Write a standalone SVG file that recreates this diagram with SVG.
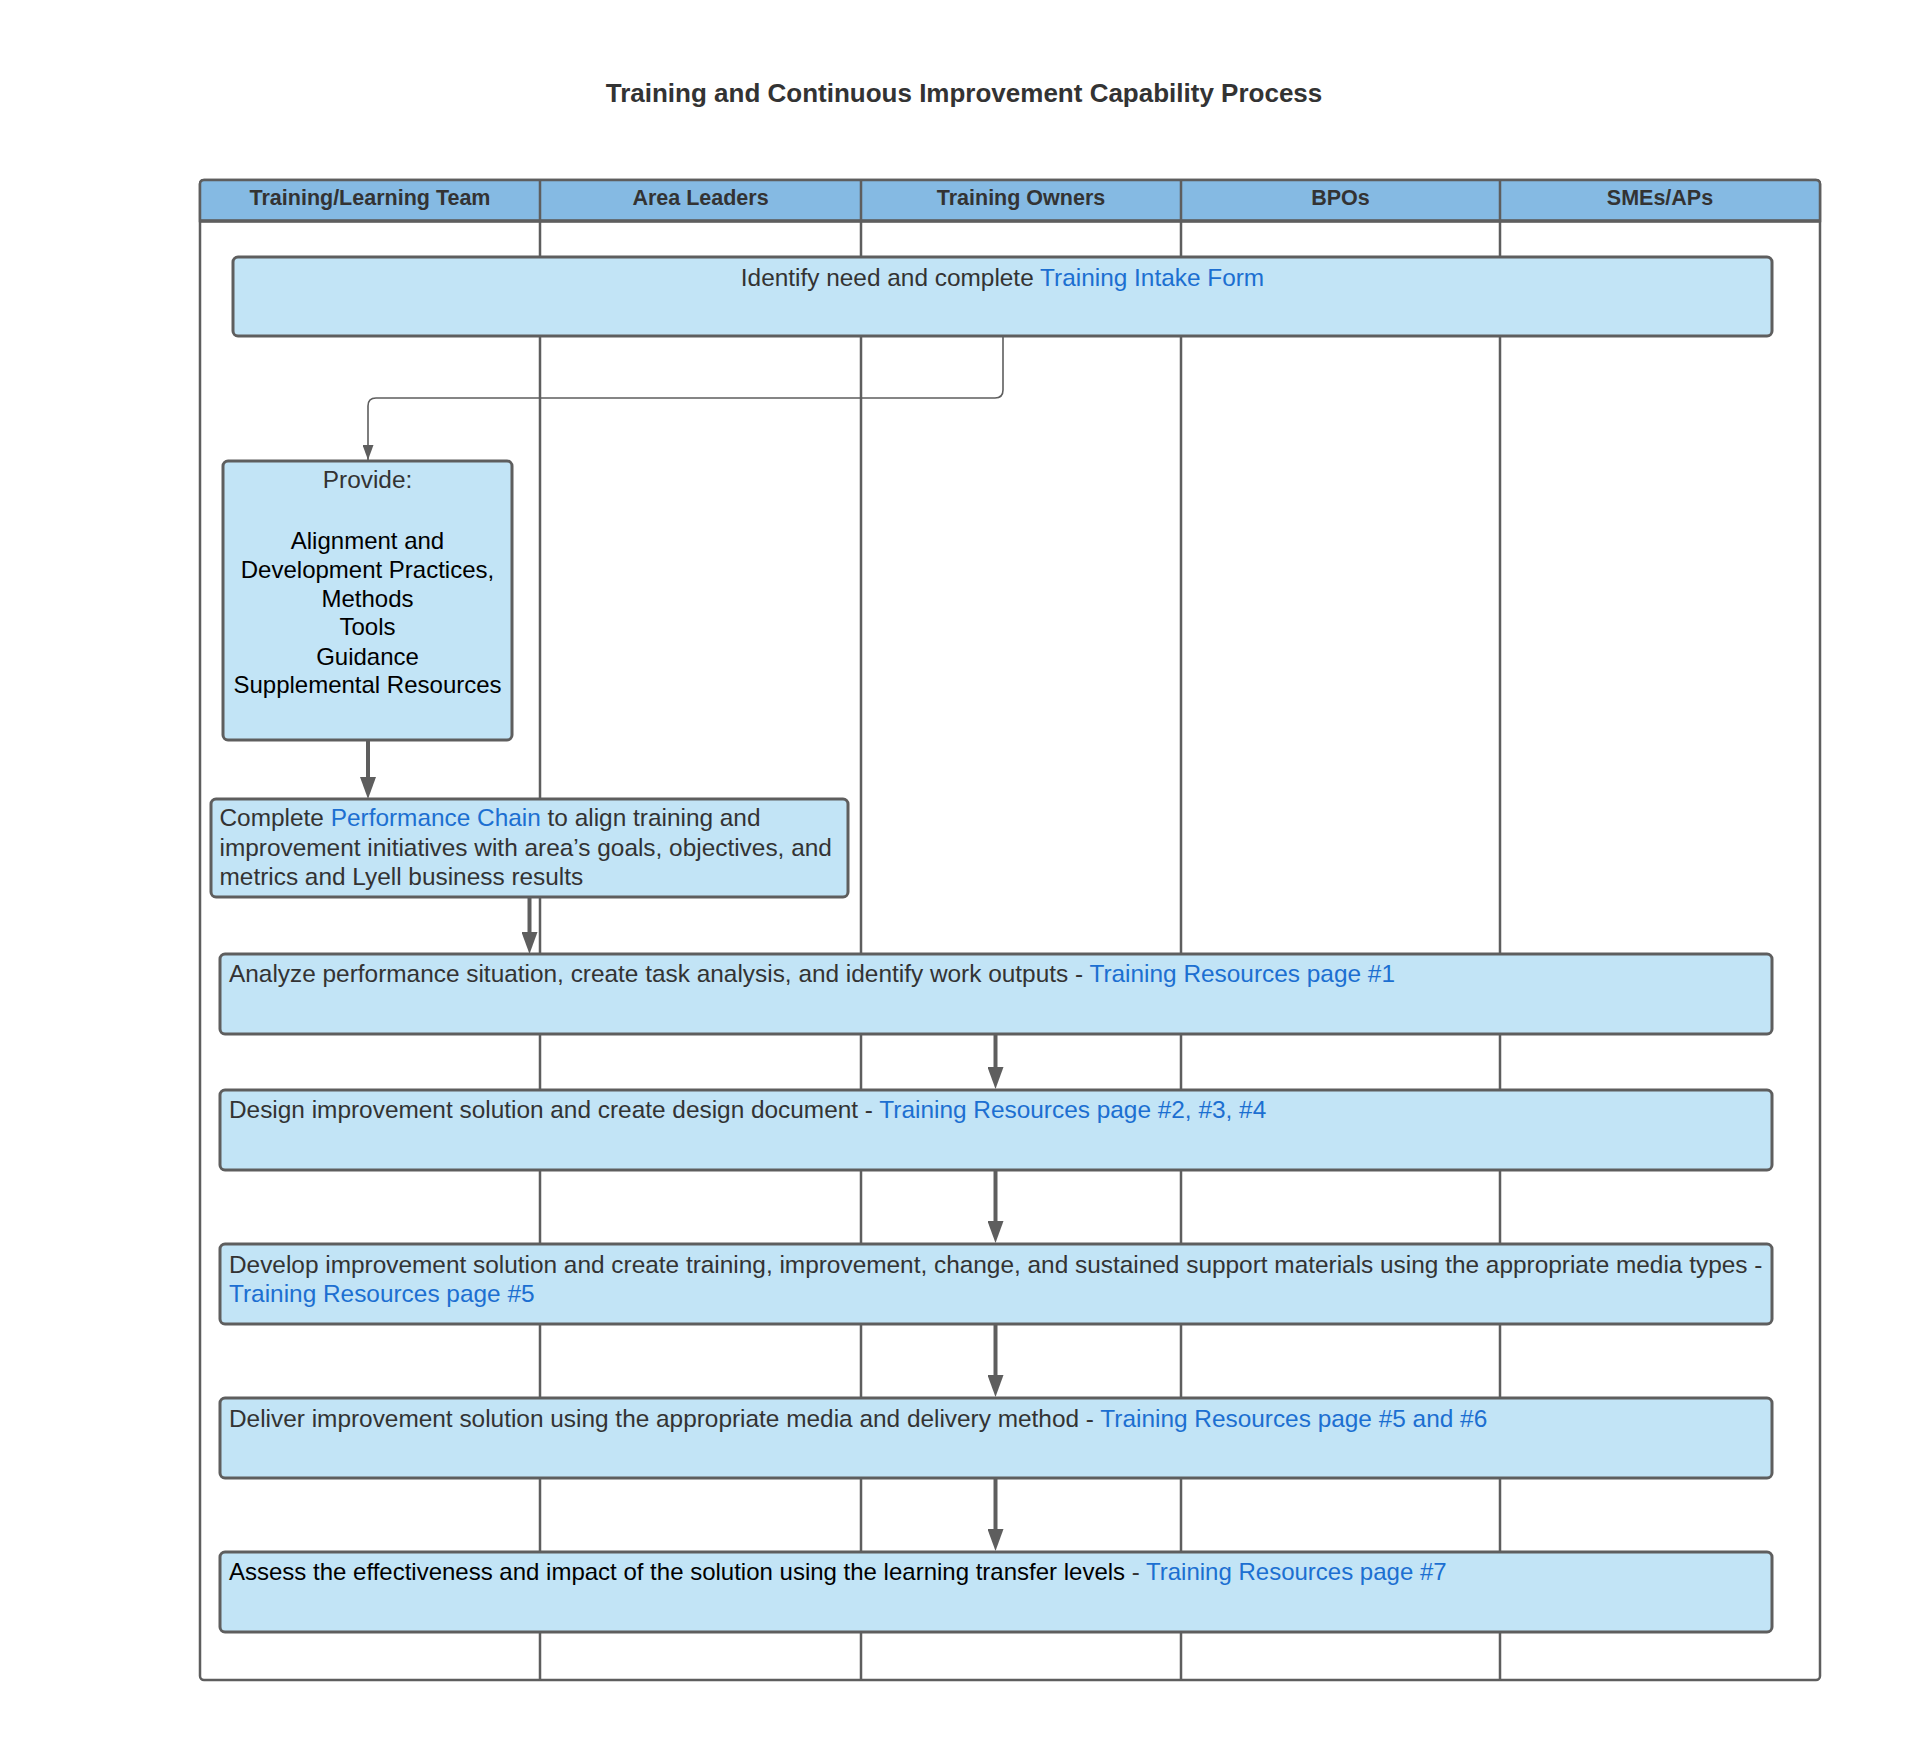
<svg xmlns="http://www.w3.org/2000/svg" width="1920" height="1760" viewBox="0 0 1920 1760">
<style>
.bg{fill:#ffffff}
.pool{fill:#ffffff;stroke:#5e5e5e;stroke-width:2.5}
.hdr{fill:#85bae3;stroke:#5e5e5e;stroke-width:2.5}
.lane{stroke:#5e5e5e;stroke-width:2.5;fill:none}
.node{fill:#c2e4f6;stroke:#5e5e5e;stroke-width:3}
.title{font-family:"Liberation Sans",Arial,sans-serif;font-size:26px;font-weight:bold;fill:#333333}
.ht{font-family:"Liberation Sans",Arial,sans-serif;font-size:21.5px;font-weight:bold;fill:#333333;text-anchor:middle}
.t{font-family:"Liberation Sans",Arial,sans-serif;font-size:24.4px;fill:#333333}
.k{fill:#000000;font-size:24px}
.lnk{fill:#1c6fd1}
.thin{stroke:#5e5e5e;stroke-width:1.6;fill:none}
.thick{stroke:#5e5e5e;stroke-width:4;fill:none}
</style>
<defs>
<marker id="ah" viewBox="0 0 15 11" refX="15" refY="5.5" markerWidth="15" markerHeight="11" markerUnits="userSpaceOnUse" orient="auto">
<path d="M0,0 L15,5.5 L0,11 z" fill="#5e5e5e"/>
</marker>
<marker id="ahb" viewBox="0 0 22 16" refX="8" refY="8" markerWidth="22" markerHeight="16" markerUnits="userSpaceOnUse" orient="auto">
<path d="M0,0 L22,8 L0,16 z" fill="#5e5e5e"/>
</marker>
</defs>
<rect class="bg" x="0" y="0" width="1920" height="1760"/>
<text class="title" x="964" y="102" text-anchor="middle">Training and Continuous Improvement Capability Process</text>
<g id="pool">
<rect class="pool" x="200" y="180" width="1620" height="1500" rx="4"/>
<path class="hdr" d="M204,180 H1816 Q1820,180 1820,184 V221 H200 V184 Q200,180 204,180 z"/>
<line class="lane" x1="540" y1="180" x2="540" y2="1681"/>
<line class="lane" x1="861" y1="180" x2="861" y2="1681"/>
<line class="lane" x1="1181" y1="180" x2="1181" y2="1681"/>
<line class="lane" x1="1500" y1="180" x2="1500" y2="1681"/>
<line x1="200" y1="221" x2="1820" y2="221" stroke="#5e5e5e" stroke-width="3.5"/>
<text class="ht" x="370" y="205">Training/Learning Team</text>
<text class="ht" x="700.5" y="205">Area Leaders</text>
<text class="ht" x="1021" y="205">Training Owners</text>
<text class="ht" x="1340.5" y="205">BPOs</text>
<text class="ht" x="1660" y="205">SMEs/APs</text>
</g>
<g id="connectors">
<path class="thin" d="M1003,337 V390 Q1003,398 995,398 H376 Q368,398 368,406 V460" marker-end="url(#ah)"/>
<line class="thick" x1="368" y1="741" x2="368" y2="785" marker-end="url(#ahb)"/>
<line class="thick" x1="529.5" y1="898" x2="529.5" y2="940" marker-end="url(#ahb)"/>
<line class="thick" x1="995.5" y1="1035" x2="995.5" y2="1075" marker-end="url(#ahb)"/>
<line class="thick" x1="995.5" y1="1171" x2="995.5" y2="1229" marker-end="url(#ahb)"/>
<line class="thick" x1="995.5" y1="1325" x2="995.5" y2="1383" marker-end="url(#ahb)"/>
<line class="thick" x1="995.5" y1="1479" x2="995.5" y2="1537" marker-end="url(#ahb)"/>
</g>
<g id="n1">
<rect class="node" x="233" y="257" width="1539" height="79" rx="5"/>
<text class="t" x="1002.5" y="285.5" text-anchor="middle">Identify need and complete <tspan class="lnk">Training Intake Form</tspan></text>
</g>
<g id="n2">
<rect class="node" x="223" y="461" width="289" height="279" rx="5"/>
<text class="t" x="367.5" y="488" text-anchor="middle">Provide:</text>
<text class="t k" text-anchor="middle"><tspan x="367.5" y="549">Alignment and</tspan><tspan x="367.5" y="577.5">Development Practices,</tspan><tspan x="367.5" y="607">Methods</tspan><tspan x="367.5" y="635">Tools</tspan><tspan x="367.5" y="664.5">Guidance</tspan><tspan x="367.5" y="692.5">Supplemental Resources</tspan></text>
</g>
<g id="n3">
<rect class="node" x="211" y="799" width="637" height="98" rx="5"/>
<text class="t"><tspan x="219.5" y="826">Complete <tspan class="lnk">Performance Chain</tspan> to align training and</tspan><tspan x="219.5" y="855.5">improvement initiatives with area’s goals, objectives, and</tspan><tspan x="219.5" y="885">metrics and Lyell business results</tspan></text>
</g>
<g id="n4">
<rect class="node" x="220" y="954" width="1552" height="80" rx="5"/>
<text class="t" x="229" y="982">Analyze performance situation, create task analysis, and identify work outputs - <tspan class="lnk">Training Resources page #1</tspan></text>
</g>
<g id="n5">
<rect class="node" x="220" y="1090" width="1552" height="80" rx="5"/>
<text class="t" x="229" y="1118">Design improvement solution and create design document - <tspan class="lnk">Training Resources page #2, #3, #4</tspan></text>
</g>
<g id="n6">
<rect class="node" x="220" y="1244" width="1552" height="80" rx="5"/>
<text class="t"><tspan x="229" y="1272.5">Develop improvement solution and create training, improvement, change, and sustained support materials using the appropriate media types -</tspan><tspan x="229" y="1302" class="lnk">Training Resources page #5</tspan></text>
</g>
<g id="n7">
<rect class="node" x="220" y="1398" width="1552" height="80" rx="5"/>
<text class="t" x="229" y="1427">Deliver improvement solution using the appropriate media and delivery method - <tspan class="lnk">Training Resources page #5 and #6</tspan></text>
</g>
<g id="n8">
<rect class="node" x="220" y="1552" width="1552" height="80" rx="5"/>
<text class="t k" x="229" y="1580">Assess the effectiveness and impact of the solution using the learning transfer levels <tspan fill="#333333">-</tspan> <tspan class="lnk">Training Resources page #7</tspan></text>
</g>
</svg>
